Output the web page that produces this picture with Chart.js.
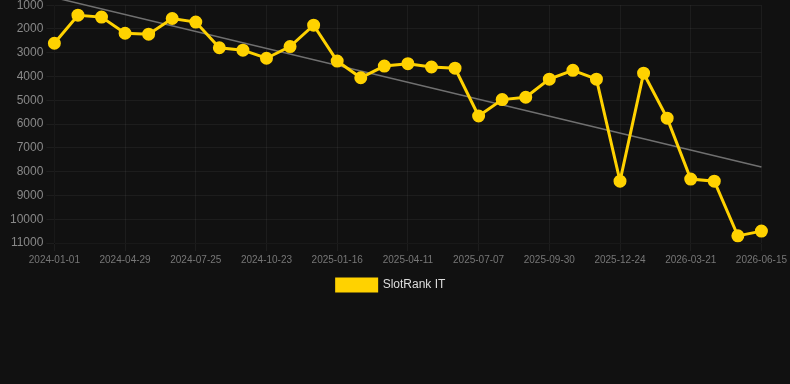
<!DOCTYPE html>
<html>
<head>
<meta charset="utf-8">
<script src="https://cdn.jsdelivr.net/npm/chart.js@4"></script>
<style>
  html, body { margin: 0; padding: 0; background: #111111; overflow: hidden; }
  .chart-container { position: relative; width: 790px; height: 306px; margin-top: -5px; }
</style>
</head>
<body>
<div class="chart-container">
  <canvas id="rankChart"></canvas>
</div>
<script>
const labels = [
  '2024-01-01', '2024-02-10', '2024-03-20', '2024-04-29', '2024-05-28', '2024-06-26',
  '2024-07-25', '2024-08-24', '2024-09-23', '2024-10-23', '2024-11-20', '2024-12-18',
  '2025-01-16', '2025-02-13', '2025-03-13', '2025-04-11', '2025-05-10', '2025-06-08',
  '2025-07-07', '2025-08-04', '2025-09-01', '2025-09-30', '2025-10-28', '2025-11-25',
  '2025-12-24', '2026-01-22', '2026-02-20', '2026-03-21', '2026-04-19', '2026-05-17',
  '2026-06-15'
];

const rankIT = [
  2600, 1420, 1500, 2180, 2220, 1560, 1710, 2790, 2890, 3230, 2740,
  1840, 3350, 4050, 3560, 3460, 3600, 3650, 5660, 4970, 4870, 4110,
  3740, 4110, 8400, 3860, 5750, 8310, 8400, 10700, 10500
];

// trend line end points (start, end)
const trendEnds = [680, 7800];

const yTicks = { min: 1000, max: 11000, step: 1000 };

const trend = labels.map((_, i) => i === 0 ? trendEnds[0] : (i === labels.length - 1 ? trendEnds[1] : null));

const ctx = document.getElementById('rankChart').getContext('2d');

new Chart(ctx, {
  type: 'line',
  data: {
    labels: labels,
    datasets: [{
      label: 'SlotRank IT',
      data: rankIT,
      borderColor: '#FFD200',
      backgroundColor: '#FFD200',
      borderWidth: 3,
      pointRadius: 5,
      pointHoverRadius: 6,
      tension: 0,
    }, {
      label: 'trend',
      data: trend,
      borderColor: '#707070',
      borderWidth: 1.5,
      pointRadius: 0,
      spanGaps: true,
      tension: 0,
      clip: 6,
    }],
  },
  options: {
    responsive: true,
    maintainAspectRatio: false,
    animation: false,
    layout: { padding: { left: 7, right: 15 } },
    plugins: {
      legend: {
        position: 'bottom',
        labels: {
          color: '#dddddd',
          font: { family: 'Liberation Sans', size: 12 },
          filter: (item) => item.text !== 'trend',
        },
      },
      tooltip: { enabled: false },
    },
    scales: {
      x: {
        grid: { color: 'rgba(255,255,255,0.05)' },
        ticks: {
          color: '#777777',
          maxRotation: 0,
          font: { family: 'Liberation Sans', size: 10 },
        },
      },
      y: {
        reverse: true,
        min: yTicks.min,
        max: yTicks.max,
        grid: { color: 'rgba(255,255,255,0.05)' },
        ticks: {
          color: '#888888',
          stepSize: yTicks.step,
          callback: (v) => String(v),
          font: { family: 'Liberation Sans', size: 12 },
        },
      },
    },
  },
});
</script>
</body>
</html>
